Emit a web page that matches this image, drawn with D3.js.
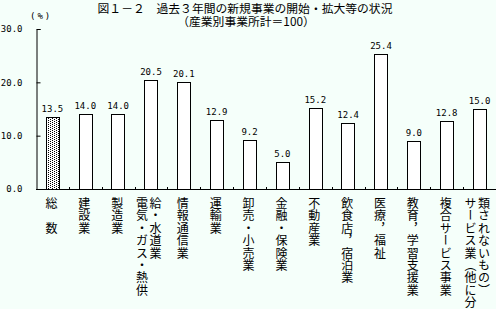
<!DOCTYPE html>
<html>
<head>
<meta charset="utf-8">
<script src="https://cdn.jsdelivr.net/npm/d3@7"></script>
<style>
  body { margin: 0; background: #f5fffa; }
  svg { display: block; }
  text { fill: #000; }
</style>
</head>
<body>
<div id="chart"></div>
<script>
// data
var categories = ["総数", "建設業", "製造業", "電気・ガス・熱供給・水道業", "情報通信業", "運輸業",
  "卸売・小売業", "金融・保険業", "不動産業", "飲食店，宿泊業", "医療，福祉",
  "教育，学習支援業", "複合サービス事業", "サービス業（他に分類されないもの）"];
// how each label is broken into vertical columns
var labelColumns = [["総　数"], ["建設業"], ["製造業"], ["電気・ガス・熱供", "給・水道業"], ["情報通信業"], ["運輸業"],
  ["卸売・小売業"], ["金融・保険業"], ["不動産業"], ["飲食店，宿泊業"], ["医療，福祉"],
  ["教育，学習支援業"], ["複合サービス事業"], ["サービス業（他に分", "類されないもの）"]];
var values = [13.5, 14.0, 14.0, 20.5, 20.1, 12.9, 9.2, 5.0, 15.2, 12.4, 25.4, 9.0, 12.8, 15.0];
var yTicks = [0, 10, 20, 30];

var W = 496, H = 309;
var svg = d3.select("#chart").append("svg")
  .attr("width", W)
  .attr("height", H);

// stipple pattern for the total bar
var pat = svg.append("defs").append("pattern")
  .attr("id", "dots")
  .attr("patternUnits", "userSpaceOnUse")
  .attr("width", 4).attr("height", 2);
pat.append("rect").attr("width", 4).attr("height", 2).attr("fill", "#fff");
pat.append("rect").attr("x", 0).attr("y", 0).attr("width", 1).attr("height", 1).attr("fill", "#000");
pat.append("rect").attr("x", 2).attr("y", 1).attr("width", 1).attr("height", 1).attr("fill", "#000");

var x = d3.scaleBand()
  .domain(categories)
  .range([36, 496])
  .paddingInner(0.59)
  .paddingOuter(0.295);

var y = d3.scaleLinear()
  .domain([0, 30])
  .range([189, 29]);

// titles
svg.append("text")
  .attr("x", 245).attr("y", 12.5)
  .attr("text-anchor", "middle")
  .style("font", "11.8px 'Noto Sans CJK JP'")
  .text("図１－２　過去３年間の新規事業の開始・拡大等の状況");
svg.append("text")
  .attr("x", 246).attr("y", 25.5)
  .attr("text-anchor", "middle")
  .style("font", "11.8px 'Noto Sans CJK JP'")
  .text("（産業別事業所計＝100）");
svg.append("text")
  .attr("x", 30).attr("y", 18.5)
  .style("font", "9px 'DejaVu Sans Mono'")
  .style("letter-spacing", "2px")
  .text("(%)");

// y axis, ticks pointing right
var yAxis = svg.append("g")
  .attr("transform", "translate(36.5,0)")
  .call(d3.axisRight(y).tickValues(yTicks).tickSize(4).tickFormat(d3.format(".1f")));
yAxis.select(".domain").attr("stroke", "#000");
yAxis.selectAll(".tick line").attr("stroke", "#000");
yAxis.selectAll(".tick text")
  .attr("x", -14)
  .attr("text-anchor", "end")
  .style("font", "9px 'DejaVu Sans Mono'")
  .attr("fill", "#000");

// bars
svg.selectAll(".bar")
  .data(values)
  .enter()
  .append("rect")
    .attr("class", "bar")
    .attr("x", function (d, i) { return Math.round(x(categories[i])) + 0.5; })
    .attr("y", function (d) { return Math.round(y(d)) + 0.5; })
    .attr("width", Math.round(x.bandwidth()))
    .attr("height", function (d) { return Math.round(y(0)) - Math.round(y(d)); })
    .attr("fill", function (d, i) { return i == 0 ? "url(#dots)" : "#fff"; })
    .attr("stroke", "#000")
    .attr("stroke-width", 1);

// baseline and small separators
svg.append("line")
  .attr("x1", 36).attr("x2", 496)
  .attr("y1", 189.5).attr("y2", 189.5)
  .attr("stroke", "#000");
svg.selectAll(".sep")
  .data(categories)
  .enter()
  .append("line")
    .attr("class", "sep")
    .attr("x1", function (d) { return Math.round(x(d) + x.bandwidth() + (x.step() - x.bandwidth()) / 2) + 0.5; })
    .attr("x2", function (d) { return Math.round(x(d) + x.bandwidth() + (x.step() - x.bandwidth()) / 2) + 0.5; })
    .attr("y1", 189).attr("y2", 187)
    .attr("stroke", "#000");

// value labels
svg.selectAll(".val")
  .data(values)
  .enter()
  .append("text")
    .attr("class", "val")
    .attr("x", function (d, i) { return x(categories[i]) + x.bandwidth() / 2; })
    .attr("y", function (d) { return y(d) - 5; })
    .attr("text-anchor", "middle")
    .style("font", "9px 'DejaVu Sans Mono'")
    .text(function (d) { return d.toFixed(1); });

// vertical category labels, one character per row
var step = 12.4;
labelColumns.forEach(function (cols, i) {
  var cx = x(categories[i]) + x.bandwidth() / 2;
  var offs = cols.length == 1 ? [-1] : [-9, 4.5];
  cols.forEach(function (col, k) {
    Array.from(col).forEach(function (ch, r) {
      if (ch == "　") return;
      svg.append("text")
        .attr("x", cx + offs[k])
        .attr("y", 203.5 + r * step)
        .attr("text-anchor", "middle")
        .attr("dominant-baseline", "central")
        .style("font", "12px 'Noto Sans CJK JP'")
        .style("writing-mode", "vertical-rl")
        .text(ch);
    });
  });
});
</script>
</body>
</html>
